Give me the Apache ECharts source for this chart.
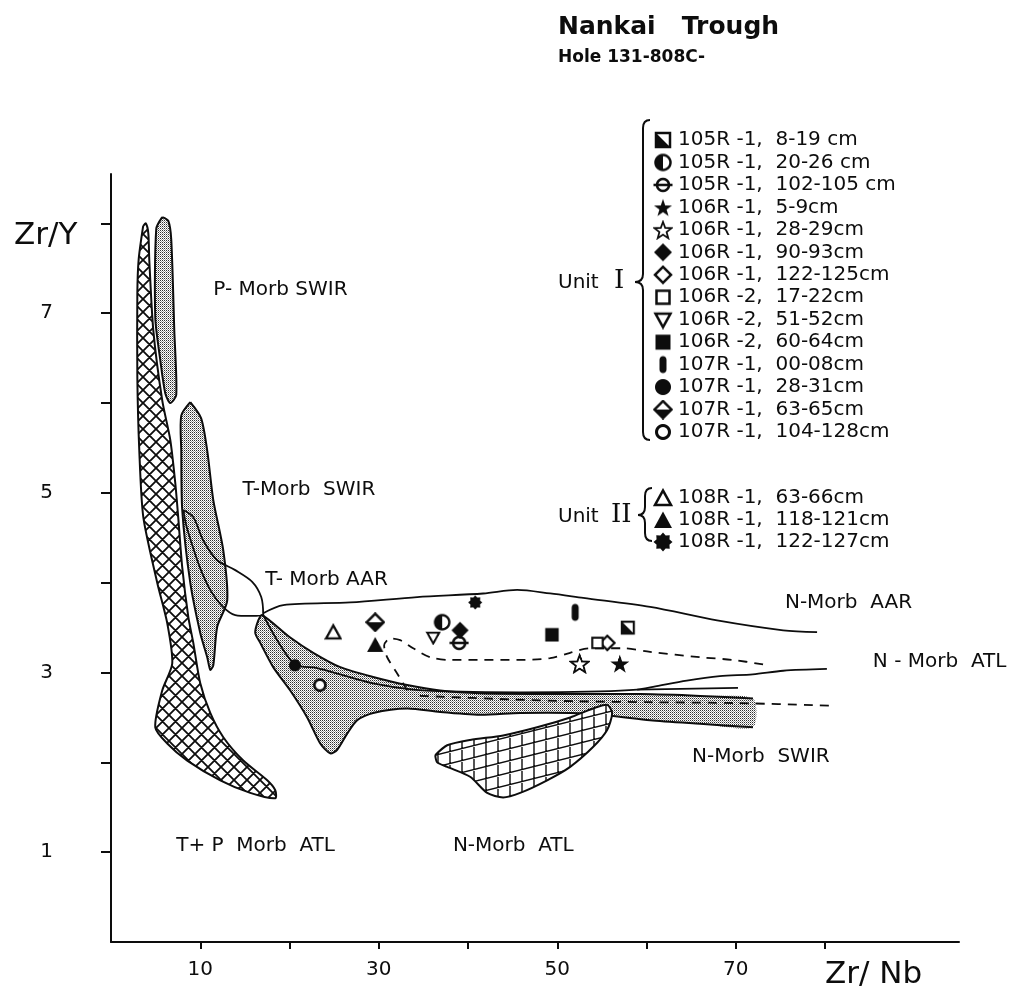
<!DOCTYPE html>
<html>
<head>
<meta charset="utf-8">
<title>Nankai Trough - Zr/Y vs Zr/Nb</title>
<script src="https://cdn.jsdelivr.net/npm/echarts@6.0.0/dist/echarts.min.js"></script>
<style>
html, body { margin: 0; padding: 0; background: #fff; }
#chart { width: 1029px; height: 990px; }
</style>
</head>
<body>
<div id="chart"></div>
<script>
// samples, Hole 131-808C
const unit1Samples = ['105R-1, 8-19 cm', '105R-1, 20-26 cm', '105R-1, 102-105 cm', '106R-1, 5-9cm',
    '106R-1, 28-29cm', '106R-1, 90-93cm', '106R-1, 122-125cm', '106R-2, 17-22cm', '106R-2, 51-52cm',
    '106R-2, 60-64cm', '107R-1, 00-08cm', '107R-1, 28-31cm', '107R-1, 63-65cm', '107R-1, 104-128cm'];
const unit1ZrNb = [57.9, 37.1, 39.0, 57.0, 52.5, 39.1, 55.6, 54.5, 36.1, 49.4, 52.0, 20.6, 29.6, 23.4];
const unit1ZrY = [3.50, 3.56, 3.33, 3.10, 3.10, 3.47, 3.33, 3.33, 3.39, 3.42, 3.67, 3.08, 3.56, 2.86];

const unit2Samples = ['108R-1, 63-66cm', '108R-1, 118-121cm', '108R-1, 122-127cm'];
const unit2ZrNb = [24.9, 29.6, 40.8];
const unit2ZrY = [3.45, 3.31, 3.78];

// axis ticks / labels
const xTicks = [10, 20, 30, 40, 50, 60, 70, 80];
const xLabels = [10, 30, 50, 70];
const yTicks = [1, 2, 3, 4, 5, 6, 7, 8];
const yLabels = [1, 3, 5, 7];

// field boundaries [Zr/Nb, Zr/Y]
const fieldTPMorbATL = [[3.6, 7.97], [3.1, 7.6], [2.95, 7.22], [2.95, 6.29], [3.17, 5.47], [3.62, 4.73],
    [5.18, 4.0], [6.3, 3.55], [6.86, 3.1], [5.74, 2.8], [4.96, 2.39], [6.3, 2.21], [8.54, 2.02],
    [12.24, 1.8], [15.6, 1.66], [18.4, 1.6], [18.4, 1.69], [17.5, 1.8], [14.82, 2.02], [12.58, 2.28],
    [11.12, 2.55], [10.0, 2.88], [9.22, 3.33], [8.66, 3.62], [7.98, 4.17], [7.53, 4.73], [7.2, 5.11],
    [6.64, 5.59], [5.74, 6.03], [4.74, 6.81], [4.29, 7.59], [4.18, 7.89], [3.9, 8.0]];
const fieldPMorbSWIR = [[5.74, 8.07], [5.07, 7.94], [4.96, 6.95], [5.52, 6.48], [6.08, 6.11], [6.64, 6.0],
    [7.31, 6.09], [7.09, 6.81], [6.75, 7.82], [6.41, 8.03]];
const fieldTMorbSWIR = [[8.88, 6.01], [7.87, 5.86], [7.87, 5.47], [7.98, 4.81], [8.88, 4.0], [10.0, 3.44],
    [10.78, 3.17], [11.12, 3.03], [11.46, 3.08], [11.9, 3.51], [13.02, 3.8], [12.58, 4.36], [11.46, 4.92],
    [10.78, 5.47], [10.1, 5.83]];
const fieldTMorbAAR = [[8.1, 4.81], [9.22, 4.73], [10.34, 4.47], [11.9, 4.25], [13.92, 4.14], [15.82, 4.01],
    [16.83, 3.84], [17.05, 3.64], [15.6, 3.63], [13.92, 3.64], [12.46, 3.74], [11.12, 3.92], [10.0, 4.16],
    [9.1, 4.42], [8.43, 4.64], [8.1, 4.81]];
const fieldNMorbSWIR = [[16.94, 3.64], [20.08, 3.39], [22.66, 3.22], [25.68, 3.06], [29.37, 2.95], [33.18, 2.86],
    [36.87, 2.8], [41.36, 2.77], [50.32, 2.76], [59.27, 2.76], [65.99, 2.74], [71.92, 2.71], [71.92, 2.39],
    [65.99, 2.43], [60.39, 2.47], [55.91, 2.52], [51.44, 2.55], [45.84, 2.55], [41.36, 2.53], [36.87, 2.56],
    [33.18, 2.6], [29.37, 2.55], [27.58, 2.47], [26.46, 2.32], [25.34, 2.14], [24.56, 2.1], [23.44, 2.21],
    [21.98, 2.5], [20.08, 2.8], [18.17, 3.06], [16.72, 3.33], [16.16, 3.44], [16.5, 3.58]];
const fieldNMorbATL = [[36.32, 2.08], [37.66, 2.19], [40.23, 2.25], [43.93, 2.3], [47.74, 2.39], [51.44, 2.5],
    [54.0, 2.6], [55.58, 2.64], [56.14, 2.55], [55.58, 2.36], [54.0, 2.17], [51.44, 1.95], [48.86, 1.8],
    [45.84, 1.66], [43.93, 1.61], [42.14, 1.66], [40.23, 1.84], [37.66, 1.95], [36.54, 2.0]];
const nMorbAARTop = [[17.05, 3.66], [19.3, 3.75], [26.8, 3.78], [34.3, 3.84], [41.7, 3.88], [45.5, 3.92],
    [49.2, 3.88], [52.9, 3.83], [60.4, 3.73], [67.9, 3.58], [75.3, 3.47], [79.1, 3.45]];
const nMorbAARBase = [[17.05, 3.64], [18.62, 3.36], [20.64, 3.09], [23.1, 3.05], [25.68, 2.98], [29.37, 2.88],
    [33.85, 2.81], [37.99, 2.79], [45.84, 2.78], [54.8, 2.79], [58.95, 2.81], [60.73, 2.84], [64.5, 2.91],
    [68.2, 2.96], [71.9, 2.98], [75.3, 3.02], [80.2, 3.04]];
const nMorbATLLine = [[58.95, 2.81], [70.24, 2.83]];
const dashedUpper = [[33.18, 2.8], [32.06, 2.99], [30.94, 3.17], [30.6, 3.3], [31.28, 3.38], [32.4, 3.36],
    [33.85, 3.27], [35.76, 3.17], [37.99, 3.14], [41.7, 3.14], [45.5, 3.14], [49.2, 3.16], [51.44, 3.22],
    [53.68, 3.27], [57.37, 3.27], [60.39, 3.23], [65.99, 3.17], [69.68, 3.14], [73.05, 3.09]];
const dashedLower = [[34.6, 2.74], [45, 2.7], [52, 2.68], [60, 2.67], [70, 2.66], [81, 2.63]];

// field names and where they are written
const fieldLabels = ['P- Morb SWIR', 'T-Morb  SWIR', 'T- Morb AAR', 'N-Morb  AAR', 'N - Morb  ATL',
    'N-Morb  SWIR', 'T+ P  Morb  ATL', 'N-Morb  ATL'];
const fieldLabelZrNb = [11.46, 14.72, 17.28, 75.5, 85.35, 65.1, 7.31, 38.3];
const fieldLabelZrY = [7.26, 5.03, 4.03, 3.78, 3.12, 2.06, 1.07, 1.07];

const ink = '#0d0d0d';
const font = 'DejaVu Sans';

// marker glyphs (style, same order as samples)
const unit1Glyphs = ['halfSquare', 'halfCircle', 'barCircle', 'star', 'starOpen', 'diamond', 'diamondOpen',
    'squareOpen', 'triDownOpen', 'square', 'capsule', 'circle', 'diamondHalf', 'circleOpen'];
const unit2Glyphs = ['triOpen', 'tri', 'burst'];
const glyphSize = {
    halfSquare: 17, halfCircle: 19, barCircle: 20, star: 21, starOpen: 21, diamond: 19, diamondOpen: 18,
    squareOpen: 16, triDownOpen: 16, square: 18, capsule: 20, circle: 15, diamondHalf: 20, circleOpen: 17,
    triOpen: 18, tri: 18, burst: 15
};

function glyph(kind) {
    const S = 40, M = 20;
    let c = document.createElement('canvas');
    c.width = S;
    c.height = S;
    let g = c.getContext('2d');
    g.strokeStyle = ink;
    g.fillStyle = ink;
    g.lineWidth = 5;
    const path = pts => {
        g.beginPath();
        pts.forEach((p, i) => i ? g.lineTo(p[0], p[1]) : g.moveTo(p[0], p[1]));
        g.closePath();
    };
    const star = (n, R, r, dy) => {
        let pts = [];
        for (let i = 0; i < 2 * n; i++) {
            let a = -Math.PI / 2 + i * Math.PI / n;
            let rad = i % 2 ? r : R;
            pts.push([M + rad * Math.cos(a), M + dy + rad * Math.sin(a)]);
        }
        path(pts);
    };
    const white = () => { g.fillStyle = '#fff'; g.fill(); g.fillStyle = ink; };
    switch (kind) {
        case 'halfSquare':
            g.beginPath(); g.rect(6, 6, 28, 28); white(); g.stroke();
            path([[6, 6], [6, 34], [34, 34]]); g.fill();
            break;
        case 'halfCircle':
            g.beginPath(); g.arc(M, M, 15, 0, 2 * Math.PI); white(); g.stroke();
            g.beginPath(); g.arc(M, M, 15, Math.PI / 2, Math.PI * 1.5); g.closePath(); g.fill();
            break;
        case 'barCircle':
            g.beginPath(); g.arc(M, M, 12, 0, 2 * Math.PI); white(); g.stroke();
            g.beginPath(); g.moveTo(1, M); g.lineTo(39, M); g.stroke();
            break;
        case 'star':
            star(5, 19, 7.5, 2); g.fill();
            break;
        case 'starOpen':
            g.lineWidth = 3.5; star(5, 18, 7.5, 2); white(); g.stroke();
            break;
        case 'diamond':
            path([[M, 2], [38, M], [M, 38], [2, M]]); g.fill();
            break;
        case 'diamondOpen':
            path([[M, 4], [36, M], [M, 36], [4, M]]); white(); g.stroke();
            break;
        case 'squareOpen':
            g.beginPath(); g.rect(7, 7, 26, 26); white(); g.stroke();
            break;
        case 'square':
            g.fillRect(5, 5, 30, 30);
            break;
        case 'triDownOpen':
            path([[5, 8], [35, 8], [M, 35]]); white(); g.stroke();
            break;
        case 'capsule':
            g.beginPath(); g.arc(M, 10, 7, Math.PI, 0); g.lineTo(27, 30); g.arc(M, 30, 7, 0, Math.PI);
            g.closePath(); g.fill();
            break;
        case 'circle':
            g.beginPath(); g.arc(M, M, 16, 0, 2 * Math.PI); g.fill();
            break;
        case 'diamondHalf':
            path([[M, 3], [37, M], [M, 37], [3, M]]); white(); g.stroke();
            path([[3, M], [37, M], [M, 37]]); g.fill();
            break;
        case 'circleOpen':
            g.lineWidth = 6; g.beginPath(); g.arc(M, M, 13, 0, 2 * Math.PI); white(); g.stroke();
            break;
        case 'triOpen':
            path([[M, 5], [36, 34], [4, 34]]); white(); g.stroke();
            break;
        case 'tri':
            path([[M, 3], [38, 36], [2, 36]]); g.fill();
            break;
        case 'burst':
            star(8, 19, 14, 0); g.fill();
            break;
    }
    return 'image://' + c.toDataURL();
}

function makePattern(w, h, draw) {
    let c = document.createElement('canvas');
    c.width = w;
    c.height = h;
    let g = c.getContext('2d');
    g.fillStyle = '#fff';
    g.fillRect(0, 0, w, h);
    draw(g, w, h);
    return { image: c, repeat: 'repeat' };
}

const stipple = makePattern(2, 2, g => {
    g.fillStyle = '#2e2e2e'; g.fillRect(0, 0, 1, 1);
    g.fillStyle = '#9a9a9a'; g.fillRect(1, 1, 1, 1);
});
const diamondHatch = makePattern(13, 13, (g, w, h) => {
    g.strokeStyle = ink; g.lineWidth = 1.8; g.beginPath();
    for (let k = -1; k <= 1; k++) {
        g.moveTo(k * w, 0); g.lineTo(k * w + w, h);
        g.moveTo(k * w + w, 0); g.lineTo(k * w, h);
    }
    g.stroke();
});
const gridHatch = makePattern(48, 12, (g, w, h) => {
    g.strokeStyle = ink; g.lineWidth = 1.4; g.beginPath();
    for (let x = 6; x < w; x += 12) { g.moveTo(x, 0); g.lineTo(x, h); }
    for (let k = -1; k <= 1; k++) { g.moveTo(0, h + k * h); g.lineTo(w, k * h); }
    g.stroke();
});

// filled field: fill without outline, outline drawn as a polyline (open if asked)
function fieldSeries(name, pts, fill, openAt) {
    return {
        type: 'custom',
        name: name,
        data: pts,
        silent: true,
        z: 1,
        renderItem: function (params, api) {
            if (params.dataIndex !== 0) return;
            let px = pts.map(p => api.coord(p));
            let ring = openAt == null ? px.concat([px[0]]) : px.slice(openAt).concat(px.slice(0, openAt));
            return {
                type: 'group',
                children: [
                    { type: 'polygon', shape: { points: px, smooth: 0.25 }, style: { fill: fill } },
                    { type: 'polyline', shape: { points: ring, smooth: 0.25 },
                      style: { fill: null, stroke: ink, lineWidth: 2 } }
                ]
            };
        }
    };
}

function boundary(name, pts, dashed) {
    return {
        type: 'line',
        name: name,
        data: pts,
        symbol: 'none',
        smooth: 0.3,
        silent: true,
        z: 3,
        lineStyle: { color: ink, width: 1.8, type: dashed ? [9, 7] : 'solid' }
    };
}

function sampleSeries(names, xs, ys, glyphs) {
    return names.map((n, i) => ({
        type: 'scatter',
        name: n,
        data: [[xs[i], ys[i]]],
        symbol: glyph(glyphs[i]),
        symbolSize: glyphSize[glyphs[i]],
        itemStyle: { opacity: 1 },
        z: 6
    }));
}

// curly brace from quadratic pieces
function brace(x, top, mid, bottom, tip) {
    const st = { stroke: ink, lineWidth: 2, fill: null };
    const r = 8;
    return [
        { type: 'bezierCurve', shape: { x1: x + 7, y1: top, cpx1: x, cpy1: top, x2: x, y2: top + r }, style: st },
        { type: 'line', shape: { x1: x, y1: top + r, x2: x, y2: mid - r }, style: st },
        { type: 'bezierCurve', shape: { x1: x, y1: mid - r, cpx1: x, cpy1: mid, x2: tip, y2: mid }, style: st },
        { type: 'bezierCurve', shape: { x1: tip, y1: mid, cpx1: x, cpy1: mid, x2: x, y2: mid + r }, style: st },
        { type: 'line', shape: { x1: x, y1: mid + r, x2: x, y2: bottom - r }, style: st },
        { type: 'bezierCurve', shape: { x1: x, y1: bottom - r, cpx1: x, cpy1: bottom, x2: x + 7, y2: bottom }, style: st }
    ];
}

const legendText = {
    fontFamily: font, fontSize: 20, color: ink, lineHeight: 20
};
const spaced = n => n.replace('R-', 'R -').replace(', ', ',  ');

let chart = echarts.init(document.getElementById('chart'), null, { renderer: 'canvas' });

let option = {
    backgroundColor: '#fff',
    animation: false,
    title: {
        text: 'Nankai   Trough',
        subtext: 'Hole 131-808C-',
        left: 553,
        top: 10,
        itemGap: 9,
        textStyle: { fontFamily: font, fontSize: 25, fontWeight: 'bold', color: ink },
        subtextStyle: { fontFamily: font, fontSize: 17, fontWeight: 'bold', color: ink }
    },
    legend: [
        {
            data: unit1Samples,
            orient: 'vertical',
            left: 648,
            top: 125,
            itemWidth: 20,
            itemHeight: 20,
            itemGap: 2.46,
            itemStyle: { opacity: 1 },
            selectedMode: false,
            formatter: spaced,
            textStyle: legendText
        },
        {
            data: unit2Samples,
            orient: 'vertical',
            left: 648,
            top: 483,
            itemWidth: 20,
            itemHeight: 20,
            itemGap: 2,
            itemStyle: { opacity: 1 },
            selectedMode: false,
            formatter: spaced,
            textStyle: legendText
        }
    ],
    grid: {
        left: 111,
        top: 174,
        width: 848,
        bottom: 48,
        outerBoundsMode: 'none',
        containLabel: false
    },
    xAxis: {
        type: 'value',
        min: 0,
        max: 95,
        axisLine: { show: true, lineStyle: { color: ink, width: 2 } },
        axisTick: { show: true, inside: false, length: 7, customValues: xTicks, lineStyle: { color: ink, width: 2 } },
        axisLabel: { customValues: xLabels, margin: 18, color: ink, fontFamily: font, fontSize: 20 },
        splitLine: { show: false }
    },
    yAxis: {
        type: 'value',
        min: 0,
        max: 8.55,
        axisLine: { show: true, lineStyle: { color: ink, width: 2 } },
        axisTick: { show: true, inside: false, length: 10, customValues: yTicks, lineStyle: { color: ink, width: 2 } },
        axisLabel: { customValues: yLabels, margin: 58, color: ink, fontFamily: font, fontSize: 20 },
        splitLine: { show: false }
    },
    graphic: [
        { type: 'text', x: 14, y: 236, style: { text: 'Zr/Y', font: '31px ' + font, fill: ink, verticalAlign: 'middle' } },
        { type: 'text', x: 825, y: 975, style: { text: 'Zr/ Nb', font: '31px ' + font, fill: ink, verticalAlign: 'middle' } },
        { type: 'text', x: 558, y: 283, style: { text: 'Unit', font: '20px ' + font, fill: ink, verticalAlign: 'middle' } },
        { type: 'text', x: 614, y: 281, style: { text: 'I', font: '26px DejaVu Serif', fill: ink, verticalAlign: 'middle' } },
        { type: 'text', x: 558, y: 517, style: { text: 'Unit', font: '20px ' + font, fill: ink, verticalAlign: 'middle' } },
        { type: 'text', x: 611, y: 515, style: { text: 'II', font: '26px DejaVu Serif', fill: ink, verticalAlign: 'middle' } }
    ].concat(brace(643, 120, 282, 440, 635)).concat(brace(645, 488, 515, 541, 638)),
    series: [
        fieldSeries('T+P Morb ATL', fieldTPMorbATL, diamondHatch),
        fieldSeries('P-Morb SWIR', fieldPMorbSWIR, stipple),
        fieldSeries('T-Morb SWIR', fieldTMorbSWIR, stipple),
        fieldSeries('N-Morb SWIR', fieldNMorbSWIR, stipple, 12),
        fieldSeries('N-Morb ATL field', fieldNMorbATL, gridHatch),
        boundary('T-Morb AAR', fieldTMorbAAR, false),
        boundary('N-Morb AAR top', nMorbAARTop, false),
        boundary('N-Morb AAR base', nMorbAARBase, false),
        boundary('N-Morb ATL', nMorbATLLine, false),
        boundary('dashed upper', dashedUpper, true),
        boundary('dashed lower', dashedLower, true),
        {
            type: 'scatter',
            name: 'field labels',
            silent: true,
            symbolSize: 0,
            itemStyle: { opacity: 1 },
            z: 4,
            data: fieldLabels.map((t, i) => ({ name: t, value: [fieldLabelZrNb[i], fieldLabelZrY[i]] })),
            label: {
                show: true,
                position: [0, 0],
                align: 'left',
                verticalAlign: 'middle',
                formatter: '{b}',
                fontFamily: font,
                fontSize: 20,
                color: ink,
                opacity: 1
            }
        }
    ].concat(sampleSeries(unit1Samples, unit1ZrNb, unit1ZrY, unit1Glyphs))
     .concat(sampleSeries(unit2Samples, unit2ZrNb, unit2ZrY, unit2Glyphs))
};

chart.setOption(option);
</script>
</body>
</html>
